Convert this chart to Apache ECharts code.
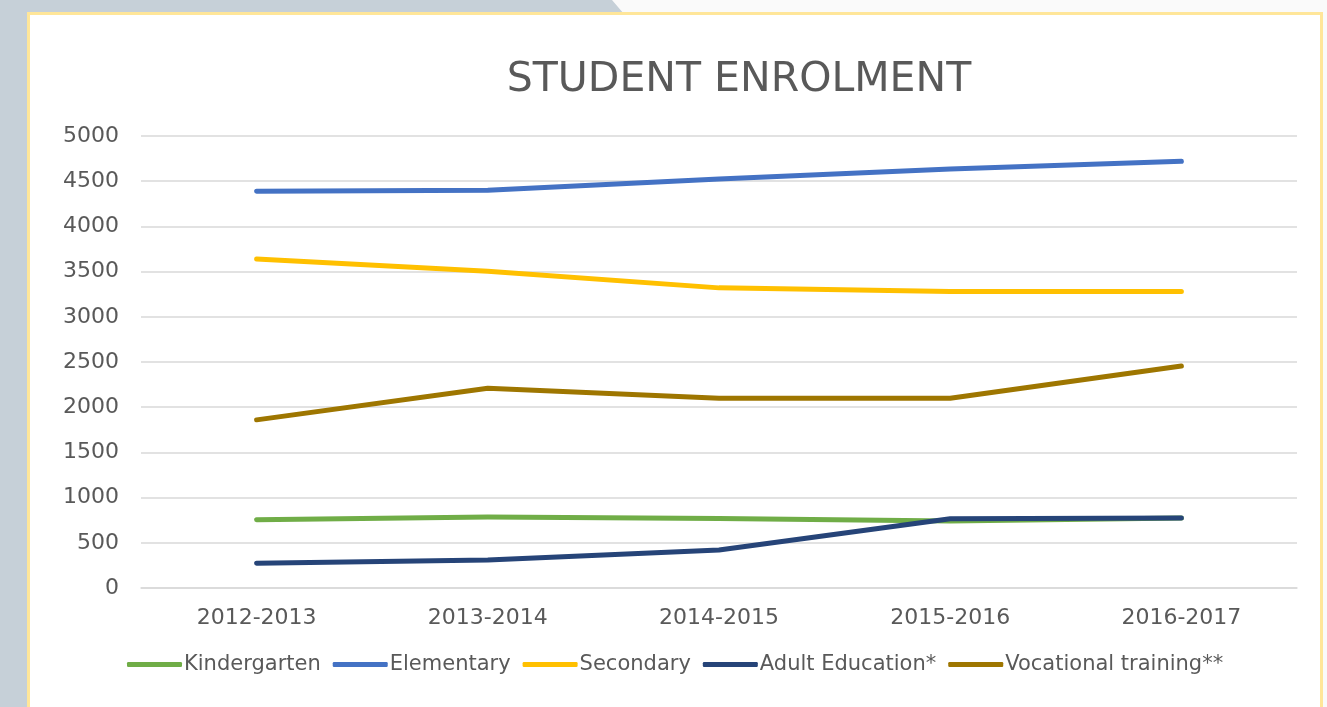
<!DOCTYPE html>
<html lang="en">

<head>
    <meta charset="UTF-8">
    <title>Student Enrolment</title>
    <script src="https://cdn.jsdelivr.net/npm/echarts@6/dist/echarts.min.js"></script>
    <style>
        html, body { margin: 0; padding: 0; width: 1327px; height: 707px; overflow: hidden; background: #fafafa; }
        #bg { position: absolute; left: 0; top: 0; width: 1327px; height: 707px; background: #c6d0d8;
              clip-path: polygon(0 0, 612px 0, 624px 14px, 27px 14px, 27px 707px, 0 707px); }
        #panel { position: absolute; left: 27px; top: 12px; width: 1290px; height: 720px; background: #fff;
                 border: 3px solid #ffe699; }
        #main { position: absolute; left: 0; top: 0; width: 1327px; height: 707px; }
    </style>
</head>

<body>
    <div id="bg"></div>
    <div id="panel"></div>
    <div id="main"></div>
</body>
<script>
    // data
    var years = ['2012-2013', '2013-2014', '2014-2015', '2015-2016', '2016-2017'];
    var kindergarten = [755, 785, 770, 740, 775];
    var elementary = [4390, 4400, 4525, 4635, 4720];
    var secondary = [3640, 3505, 3320, 3280, 3280];
    var adultEducation = [275, 310, 420, 765, 775];
    var vocational = [1860, 2210, 2100, 2100, 2455];

    var seriesNames = ['Kindergarten', 'Elementary', 'Secondary', 'Adult Education*', 'Vocational training**'];
    var seriesData = [kindergarten, elementary, secondary, adultEducation, vocational];
    var colors = ['#70ad47', '#4472c4', '#ffc000', '#264478', '#9e7600'];

    var font = 'DejaVu Sans';
    var myChart = echarts.init(document.getElementById('main'), null, { renderer: 'canvas' });

    var option = {
        backgroundColor: 'transparent',
        color: colors,
        animation: false,
        title: {
            text: 'STUDENT ENROLMENT',
            left: 734,
            top: 55,
            textAlign: 'center',
            textStyle: { fontFamily: font, fontSize: 41, fontWeight: 'normal', color: '#595959' }
        },
        legend: {
            left: 122,
            top: 649,
            icon: 'roundRect',
            itemWidth: 55,
            itemHeight: 5,
            itemGap: 12,
            textStyle: { fontFamily: font, fontSize: 21, color: '#595959', padding: [0, 0, 0, -3] },
            data: seriesNames
        },
        grid: { left: 141, right: 30, top: 136, bottom: 119, containLabel: false },
        xAxis: {
            type: 'category',
            data: years,
            axisLine: { lineStyle: { color: '#d9d9d9', width: 1.5 } },
            axisTick: { show: false },
            axisLabel: { fontFamily: font, fontSize: 22, color: '#595959', margin: 19 }
        },
        yAxis: {
            type: 'value',
            min: 0,
            max: 5000,
            interval: 500,
            axisLine: { show: false },
            axisTick: { show: false },
            axisLabel: {
                fontFamily: font, fontSize: 22, color: '#595959', margin: 22,
                formatter: function (v) { return String(v); }
            },
            splitLine: { lineStyle: { color: '#d9d9d9', width: 1.5 } }
        },
        series: seriesNames.map(function (name, i) {
            return {
                name: name,
                type: 'line',
                data: seriesData[i],
                symbol: 'none',
                lineStyle: { width: 5, cap: 'round', join: 'round' }
            };
        })
    };

    myChart.setOption(option);
</script>

</html>
